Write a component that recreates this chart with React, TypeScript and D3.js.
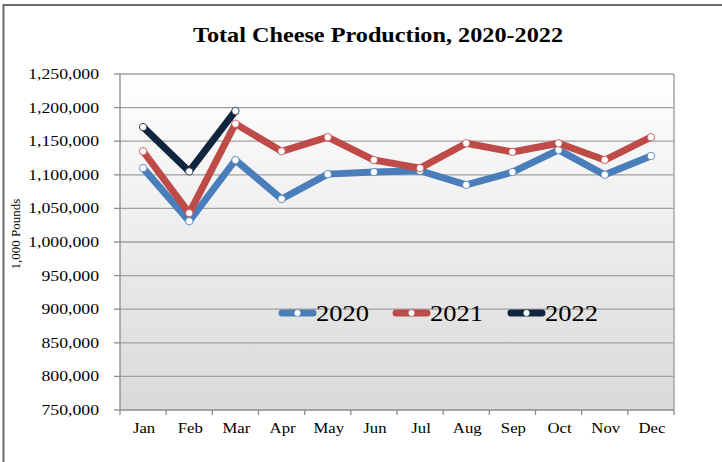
import React from "react";
import * as d3 from "d3";

const months = ["Jan", "Feb", "Mar", "Apr", "May", "Jun", "Jul", "Aug", "Sep", "Oct", "Nov", "Dec"];
const yTicks = [750000, 800000, 850000, 900000, 950000, 1000000, 1050000, 1100000, 1150000, 1200000, 1250000];
const s2020 = [1110000, 1031000, 1122000, 1064000, 1101000, 1104000, 1106000, 1085000, 1104000, 1137000, 1100000, 1128000];
const s2021 = [1135000, 1043000, 1176000, 1135000, 1156000, 1122000, 1110000, 1147000, 1134000, 1147000, 1122000, 1156000];
const s2022 = [1171000, 1105000, 1195000];
const seriesNames = ["2020", "2021", "2022"];
const seriesColors = ["#4a7ebb", "#be4b48", "#10253f"];

const W = 722, H = 462;
const left = 120, right = 674, top = 74, bottom = 410;
const font = "'Liberation Serif', 'Times New Roman', serif";
const SX = 1.18;

export default function App() {
  const x = d3.scaleBand<string>().domain(months).range([left, right]);
  const y = d3.scaleLinear().domain([750000, 1250000]).range([bottom, top]);
  const fmt = d3.format(",");
  const all = [s2020, s2021, s2022];
  const line = d3
    .line<number>()
    .x((_, i) => (x(months[i]) as number) + x.bandwidth() / 2)
    .y((d) => y(d));
  const legendX = [279, 393, 508];
  const legendY = 313;

  return (
    <svg width={W} height={H} style={{ position: "absolute", left: 0, top: 0, display: "block" }}>
      <defs>
        <linearGradient id="bg" x1="0" y1="0" x2="0" y2="1">
          <stop offset="0" stopColor="#ffffff" />
          <stop offset="1" stopColor="#d9d9d9" />
        </linearGradient>
      </defs>
      <rect x={0} y={0} width={W} height={H} fill="#ffffff" />
      <rect x={3.5} y={5} width={W + 10} height={H + 10} fill="none" stroke="#6b6b6b" strokeWidth={2} />
      <text
        x={378}
        y={42}
        textAnchor="middle"
        fontFamily={font}
        fontWeight="bold"
        fontSize={21}
        textLength={370}
        lengthAdjust="spacingAndGlyphs"
      >
        Total Cheese Production, 2020-2022
      </text>
      <rect x={left} y={top} width={right - left} height={bottom - top} fill="url(#bg)" />
      {yTicks.map((t) => (
        <g key={t}>
          {t > 750000 && (
            <line x1={left} x2={right} y1={y(t)} y2={y(t)} stroke="#a0a0a0" strokeWidth={1.3} />
          )}
          <line x1={left - 6} x2={left} y1={y(t)} y2={y(t)} stroke="#8c8c8c" strokeWidth={1.3} />
          <g transform={`translate(99,${y(t) + 5}) scale(${SX},1)`}>
            <text textAnchor="end" fontFamily={font} fontSize={15} fill="#000">
              {fmt(t)}
            </text>
          </g>
        </g>
      ))}
      <line x1={right} x2={right} y1={top} y2={bottom} stroke="#a6a6a6" strokeWidth={1.5} />
      <line x1={left} x2={left} y1={top} y2={bottom} stroke="#8c8c8c" strokeWidth={1.3} />
      <line x1={left} x2={right} y1={bottom} y2={bottom} stroke="#8c8c8c" strokeWidth={1.3} />
      {months.map((m) => (
        <line
          key={"t" + m}
          x1={x(m) as number}
          x2={x(m) as number}
          y1={bottom}
          y2={bottom + 5}
          stroke="#8c8c8c"
          strokeWidth={1.3}
        />
      ))}
      <line x1={right} x2={right} y1={bottom} y2={bottom + 5} stroke="#8c8c8c" strokeWidth={1.3} />
      {months.map((m) => (
        <g key={m} transform={`translate(${(x(m) as number) + x.bandwidth() / 2 + 1},433) scale(1.08,1)`}>
          <text textAnchor="middle" fontFamily={font} fontSize={15.5} fill="#000">
            {m}
          </text>
        </g>
      ))}
      <text
        transform={`translate(20,234) rotate(-90)`}
        textAnchor="middle"
        fontFamily={font}
        fontSize={13}
        fill="#000"
      >
        1,000 Pounds
      </text>
      {all.map((s, k) => (
        <g key={k}>
          <path
            d={line(s) as string}
            fill="none"
            stroke={seriesColors[k]}
            strokeWidth={7}
            strokeLinejoin="round"
            strokeLinecap="round"
          />
          {s.map((v, i) => (
            <circle
              key={i}
              cx={(x(months[i]) as number) + x.bandwidth() / 2}
              cy={y(v)}
              r={3.7}
              fill="#ffffff"
              stroke={seriesColors[k]}
              strokeWidth={0.8}
            />
          ))}
        </g>
      ))}
      {seriesNames.map((n, k) => (
        <g key={n}>
          <line
            x1={legendX[k] + 3}
            x2={legendX[k] + 34}
            y1={legendY}
            y2={legendY}
            stroke={seriesColors[k]}
            strokeWidth={7}
            strokeLinecap="round"
          />
          <circle cx={legendX[k] + 18.5} cy={legendY} r={3} fill="#fff" />
          <text
            x={legendX[k] + 37}
            y={legendY + 8}
            fontFamily={font}
            fontSize={22.5}
            textLength={53}
            lengthAdjust="spacingAndGlyphs"
            fill="#000"
          >
            {n}
          </text>
        </g>
      ))}
    </svg>
  );
}
